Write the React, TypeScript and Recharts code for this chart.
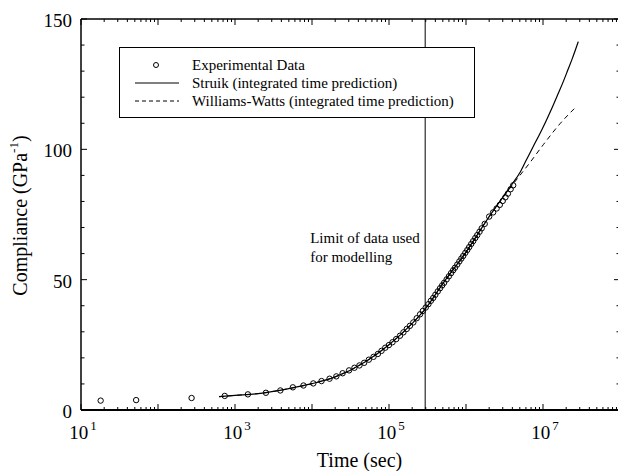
import React from 'react'
import {
  ComposedChart,
  Line,
  Scatter,
  XAxis,
  YAxis,
  ReferenceLine,
  Legend,
} from 'recharts'

const SERIF = '"Liberation Serif", "Times New Roman", serif'

// experimental creep compliance, time in seconds
const expTime = [
  18, 52, 273, 736, 1470, 2520, 3880, 5640, 7750, 10400, 13300, 16900, 20700,
  25000, 30300, 35600, 41300, 47600, 54700, 63000, 71700, 80000, 89500, 99700,
  111000, 124000, 139000, 154000, 170000, 187000, 207000, 229000, 253000,
  275000, 300000, 325000, 350000, 375000, 400000, 430000, 460000, 490000,
  520000, 560000, 600000, 640000, 680000, 720000, 770000, 820000, 870000,
  920000, 980000, 1040000, 1100000, 1170000, 1240000, 1320000, 1400000,
  1500000, 1600000, 1750000, 2000000, 2250000, 2500000, 2750000, 3000000,
  3250000, 3500000, 3800000, 4100000,
]
const expCompliance = [
  3.6, 3.8, 4.6, 5.4, 6.0, 6.6, 7.5, 8.7, 9.4, 10.2, 11.1, 12.0, 12.9,
  14.1, 15.2, 16.2, 17.1, 18.1, 19.3, 20.4, 21.5, 22.7, 23.9, 24.9,
  26.0, 27.2, 28.5, 29.8, 31.1, 32.3, 33.6, 35.2, 36.7,
  38.0, 39.3, 40.6, 41.9, 43.0, 44.2, 45.5, 46.7, 47.8,
  48.8, 50.1, 51.3, 52.5, 53.6, 54.6, 55.8, 57.0, 58.1,
  59.1, 60.3, 61.4, 62.5, 63.7, 64.8, 66.0, 67.1,
  68.4, 69.7, 71.4, 74.2, 75.8, 77.3, 78.7, 80.2,
  81.6, 83.0, 84.7, 86.2,
]

// Struik model curve
const struikTime = [
  620, 1000, 2000, 5000, 10000, 20000, 50000, 100000, 200000, 300000, 500000,
  1000000, 2000000, 4000000, 5000000, 6000000, 7500000, 9000000, 11000000,
  13300000, 15500000, 18000000, 21000000, 24000000, 28700000,
]
const struikCompliance = [
  5.1, 5.6, 6.3, 8.2, 10.1, 12.7, 18.6, 25.0, 33.2, 39.0, 48.5,
  60.6, 74.2, 86.8, 91.0, 95.6, 101.2, 105.7, 111.0,
  116.3, 120.9, 125.4, 130.4, 134.8, 141.3,
]

// Williams-Watts model curve
const wwTime = [
  620, 1000, 2000, 5000, 10000, 20000, 50000, 100000, 200000, 300000, 500000,
  1000000, 2000000, 4000000, 6800000, 10100000, 16600000, 26900000,
]
const wwCompliance = [
  5.1, 5.6, 6.3, 8.2, 10.1, 12.7, 18.6, 25.0, 33.2, 39.0, 48.5,
  60.6, 74.2, 86.3, 95.0, 101.8, 109.8, 116.3,
]

const dataLimit = 295000

const xLabelTicks = [10, 1e3, 1e5, 1e7]
const decades = [1e1, 1e2, 1e3, 1e4, 1e5, 1e6, 1e7, 1e8]
const xTicks = decades.flatMap((d, i) =>
  i < decades.length - 1 ? [d, 2 * d, 3 * d, 4 * d, 5 * d, 6 * d, 7 * d, 8 * d, 9 * d] : [d]
)
const yTicks = [0, 10, 20, 30, 40, 50, 60, 70, 80, 90, 100, 110, 120, 130, 140, 150]
const yLabelTicks = [0, 50, 100, 150]

const expData = expTime.map((t, i) => ({ t, c: expCompliance[i] }))
const struikData = struikTime.map((t, i) => ({ t, c: struikCompliance[i] }))
const wwData = wwTime.map((t, i) => ({ t, c: wwCompliance[i] }))

const X_DOMAIN: [number, number] = [10, 1e8]
const Y_DOMAIN: [number, number] = [0, 150]

const isDecade = (v: number) => {
  const e = Math.log10(v)
  return Math.abs(e - Math.round(e)) < 1e-9
}

// bottom axis: inward tick marks plus 10^n labels
function BottomTick({ x, y, payload }: any) {
  const v = payload.value
  const major = isDecade(v)
  return (
    <g>
      <line x1={x} x2={x} y1={y} y2={y - (major ? 6 : 3)} stroke="#000" />
      {xLabelTicks.includes(v) && (
        <text x={x + 2} y={y + 29} textAnchor="middle" fontFamily={SERIF} fontSize={19} fill="#000">
          <tspan>10</tspan>
          <tspan dx={2} dy={-9} fontSize={13}>{Math.round(Math.log10(v))}</tspan>
        </text>
      )}
    </g>
  )
}

function TopTick({ x, y, payload }: any) {
  const major = isDecade(payload.value)
  return <line x1={x} x2={x} y1={y} y2={y + (major ? 6 : 3)} stroke="#000" />
}

function LeftTick({ x, y, payload }: any) {
  const v = payload.value
  const major = yLabelTicks.includes(v)
  return (
    <g>
      <line x1={x} x2={x + (major ? 6 : 3.5)} y1={y} y2={y} stroke="#000" />
      {major && (
        <text x={x - 9} y={y + 8} textAnchor="end" fontFamily={SERIF} fontSize={19} fill="#000">
          {v}
        </text>
      )}
    </g>
  )
}

function RightTick({ x, y, payload }: any) {
  const major = yLabelTicks.includes(payload.value)
  return <line x1={x} x2={x - (major ? 6 : 3.5)} y1={y} y2={y} stroke="#000" />
}

function Ring({ cx, cy }: any) {
  return <circle cx={cx} cy={cy} r={2.7} fill="none" stroke="#000" strokeWidth={1} />
}

function LimitLabel({ viewBox }: any) {
  const x = viewBox.x - 115
  return (
    <text fontFamily={SERIF} fontSize={15} fill="#000">
      <tspan x={x} y={243}>Limit of data used</tspan>
      <tspan x={x} y={262}>for modelling</tspan>
    </text>
  )
}

function LegendBox() {
  const row = { display: 'flex', alignItems: 'center', height: 18 } as const
  const icon = { width: 72, height: 18, flex: 'none' } as const
  return (
    <div
      style={{
        width: 356,
        height: 71,
        boxSizing: 'border-box',
        border: '1px solid #000',
        background: '#fff',
        paddingTop: 8,
        fontFamily: SERIF,
        fontSize: 15,
        color: '#000',
        lineHeight: '18px',
      }}
    >
      <div style={row}>
        <svg style={icon}>
          <circle cx={36} cy={9} r={2.5} fill="none" stroke="#000" />
        </svg>
        <span>Experimental Data</span>
      </div>
      <div style={row}>
        <svg style={icon}>
          <line x1={15} x2={59} y1={9} y2={9} stroke="#000" />
        </svg>
        <span>Struik (integrated time prediction)</span>
      </div>
      <div style={row}>
        <svg style={icon}>
          <line x1={15} x2={59} y1={9} y2={9} stroke="#000" strokeDasharray="4 3" />
        </svg>
        <span>Williams-Watts (integrated time prediction)</span>
      </div>
    </div>
  )
}

export default function App() {
  return (
    <div style={{ position: 'absolute', left: 0, top: 0, width: 618, height: 471, overflow: 'hidden', background: '#fff' }}>
      <ComposedChart width={621} height={471} margin={{ top: 19, right: 1, bottom: 0, left: 0 }}>
        <XAxis
          dataKey="t"
          type="number"
          scale="log"
          domain={X_DOMAIN}
          allowDataOverflow
          ticks={xTicks}
          interval={0}
          tick={<BottomTick />}
          tickLine={false}
          tickSize={0}
          tickMargin={0}
          height={61}
          axisLine={{ stroke: '#000', strokeWidth: 2 }}
          label={({ viewBox }: any) => (
            <text x={viewBox.x + viewBox.width / 2 + 9} y={467} textAnchor="middle" fontFamily={SERIF} fontSize={20} fill="#000">
              Time (sec)
            </text>
          )}
        />
        <XAxis
          xAxisId="top"
          orientation="top"
          mirror
          dataKey="t"
          type="number"
          scale="log"
          domain={X_DOMAIN}
          allowDataOverflow
          ticks={xTicks}
          interval={0}
          tick={<TopTick />}
          tickLine={false}
          tickSize={0}
          tickMargin={0}
          axisLine={{ stroke: '#000', strokeWidth: 1.4 }}
        />
        <YAxis
          type="number"
          domain={Y_DOMAIN}
          ticks={yTicks}
          interval={0}
          tick={<LeftTick />}
          tickLine={false}
          tickSize={0}
          tickMargin={0}
          width={81}
          axisLine={{ stroke: '#000', strokeWidth: 1.5 }}
          label={({ viewBox }: any) => (
            <text
              transform={`translate(27, ${viewBox.y + viewBox.height / 2 + 1}) rotate(-90)`}
              textAnchor="middle"
              fontFamily={SERIF}
              fontSize={20}
              fill="#000"
            >
              Compliance (GPa<tspan dy={-9} fontSize={13}>-1</tspan><tspan dy={9}>)</tspan>
            </text>
          )}
        />
        <YAxis
          yAxisId="right"
          orientation="right"
          mirror
          type="number"
          domain={Y_DOMAIN}
          ticks={yTicks}
          interval={0}
          tick={<RightTick />}
          tickLine={false}
          tickSize={0}
          tickMargin={0}
          axisLine={{ stroke: '#000' }}
        />

        <ReferenceLine x={dataLimit} stroke="#000" strokeWidth={1} label={<LimitLabel />} />

        <Line data={wwData} dataKey="c" type="monotone" stroke="#000" strokeWidth={1} strokeDasharray="5 4" dot={false} activeDot={false} isAnimationActive={false} />
        <Line data={struikData} dataKey="c" type="monotone" stroke="#000" strokeWidth={1.2} dot={false} activeDot={false} isAnimationActive={false} />
        <Scatter data={expData} dataKey="c" shape={<Ring />} isAnimationActive={false} />
        {/* keeps the frame axes (top / right) bound to the same data range */}
        <Line xAxisId="top" yAxisId="right" data={expData} dataKey="c" stroke="none" dot={false} activeDot={false} isAnimationActive={false} />

        <Legend
          content={<LegendBox />}
          layout="vertical"
          align="center"
          verticalAlign="middle"
          wrapperStyle={{ position: 'absolute', left: 119, top: 47, width: 356, height: 71 }}
        />
      </ComposedChart>
    </div>
  )
}
